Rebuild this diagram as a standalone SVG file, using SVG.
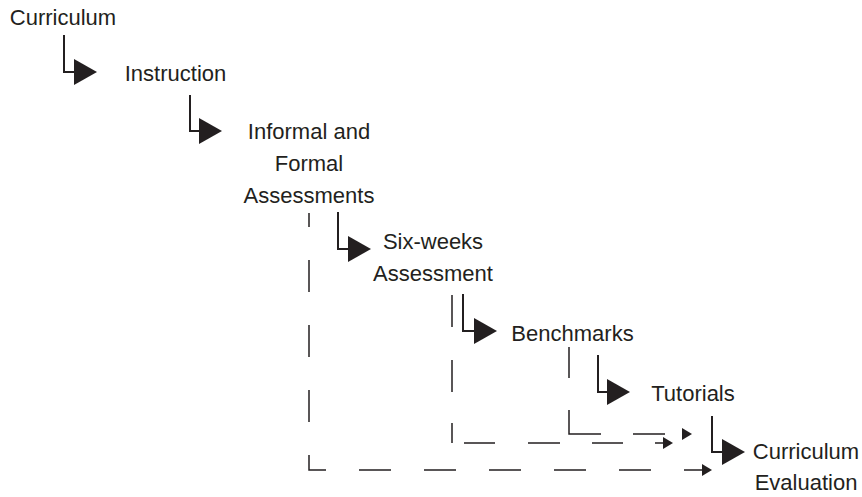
<svg xmlns="http://www.w3.org/2000/svg" width="862" height="497" viewBox="0 0 862 497">
  <style>
    .label { font-family: "Liberation Sans", Arial, sans-serif; font-size: 22px; fill: #231f20; text-anchor: middle; }
    .step { fill: none; stroke: #231f20; stroke-width: 2; marker-end: url(#bigHead); }
    .loop { fill: none; stroke: #231f20; stroke-width: 1.5; marker-end: url(#smallHead); }
  </style>
  <defs>
    <marker id="bigHead" viewBox="0 0 23 26" refX="0" refY="13" markerWidth="23" markerHeight="26" markerUnits="userSpaceOnUse" orient="auto">
      <path d="M0,0 L23,13 L0,26 Z" fill="#231f20"/>
    </marker>
    <marker id="smallHead" viewBox="0 0 10 12" refX="0" refY="6" markerWidth="10" markerHeight="12" markerUnits="userSpaceOnUse" orient="auto">
      <path d="M0,0 L10,6 L0,12 Z" fill="#231f20"/>
    </marker>
  </defs>

  <rect width="862" height="497" fill="#ffffff"/>

  <g id="curriculum">
    <text class="label" x="63" y="25">Curriculum</text>
  </g>
  <g id="instruction">
    <text class="label" x="175.5" y="81">Instruction</text>
  </g>
  <g id="assessments">
    <text class="label" x="309" y="139">Informal and</text>
    <text class="label" x="309" y="171">Formal</text>
    <text class="label" x="309" y="203">Assessments</text>
  </g>
  <g id="six-weeks">
    <text class="label" x="433" y="249">Six-weeks</text>
    <text class="label" x="433" y="281">Assessment</text>
  </g>
  <g id="benchmarks">
    <text class="label" x="572.5" y="341">Benchmarks</text>
  </g>
  <g id="tutorials">
    <text class="label" x="693" y="401">Tutorials</text>
  </g>
  <g id="evaluation">
    <text class="label" x="806" y="459">Curriculum</text>
    <text class="label" x="806" y="490">Evaluation</text>
  </g>

  <g id="connectors">
    <!-- main sequence: elbow arrows -->
    <path class="step" d="M64,35 V72 H74"/>
    <path class="step" d="M190,95 V131 H199"/>
    <path class="step" d="M338,212 V249 H348"/>
    <path class="step" d="M463,294 V331 H474"/>
    <path class="step" d="M598,355 V392 H607"/>
    <path class="step" d="M712,416 V452 H722"/>
    <!-- feedback loops: dashed returns to evaluation -->
    <path class="loop" d="M309,213 V470 H702" stroke-dasharray="32 33" stroke-dashoffset="18"/>
    <path class="loop" d="M452,295 V443 H663" stroke-dasharray="32 33 32 31 20 12 31 33 32 32 31 32 8"/>
    <path class="loop" d="M569,347 V434 H682" stroke-dasharray="31 32 56 32 32 17"/>
  </g>
</svg>
